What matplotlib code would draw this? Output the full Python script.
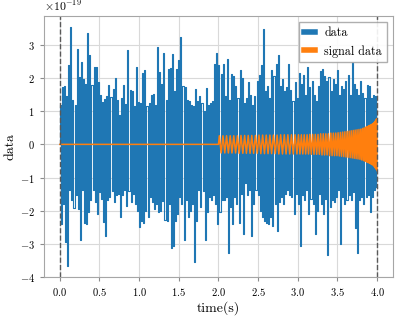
import numpy as np
import matplotlib
matplotlib.use('Agg')
import matplotlib.pyplot as plt

# extremes of the noisy strain, in units of 1e-19
data_hi = [1.2, 1.73, 1.76, 1.45, 2.38, 3.55, 1.35, 1.2, 2.87, 2.02,
           2.47, 1.97, 1.83, 3.36, 2.69, 1.8, 2.33, 2.33, 1.87, 1.5,
           1.28, 1.38, 1.45, 1.78, 1.43, 1.66, 2.0, 1.35, 0.9, 1.4, 1.8,
           1.22, 2.85, 1.63, 1.6, 1.15, 2.34, 1.28, 1.25, 2.15, 2.25,
           1.15, 1.25, 1.5, 1.52, 1.2, 2.95, 2.18, 1.81, 2.76, 1.35,
           2.28, 2.31, 2.72, 1.62, 2.28, 2.54, 3.24, 1.76, 1.73, 1.35,
           1.3, 1.2, 1.15, 1.66, 1.3, 1.45, 1.25, 1.0, 1.69, 1.2, 1.25, 1.3,
           2.43, 2.76, 2.38, 2.12, 2.43, 1.45, 2.56, 1.35, 2.12, 2.07,
           1.76, 1.4, 2.25, 2.0, 1.25, 1.4, 1.87, 1.5, 1.18, 1.45,
           1.92, 2.1, 2.38, 3.48, 1.62, 1.76, 1.4, 2.25, 2.07, 2.41,
           2.69, 1.76, 1.97, 1.62, 1.72, 2.41, 1.63, 1.3, 1.87, 1.4,
           2.14, 1.81, 2.1, 1.5, 2.34, 1.72, 1.92, 1.5, 1.3, 1.76, 2.22,
           2.28, 2.07, 1.92, 2.04, 1.62, 1.97, 1.81, 2.25, 1.5, 1.76,
           1.66, 1.92, 2.1, 1.5, 2.48, 1.81, 1.66, 1.5, 1.92, 1.56,
           1.4, 1.8, 1.76, 1.4, 1.5, 1.45]
data_lo = [-2.41, -1.8, -2.94, -3.68, -1.39, -1.69, -1.92, -1.54, -1.95, -2.89,
           -1.39, -2.36, -2.39, -2.05, -1.69, -1.37, -1.74, -2.1, -1.44, -1.64,
           -2.33, -2.77, -1.69, -1.59, -1.41, -1.74, -1.54, -1.49, -2.2, -1.54,
           -1.37, -1.85, -1.41, -1.74, -1.49, -1.8, -2.0, -2.49, -2.31, -2.36,
           -2.0, -2.18, -1.59, -1.74, -1.95, -1.8, -2.05, -2.0, -1.71, -2.29,
           -2.31, -1.8, -3.14, -3.07, -2.31, -2.1, -1.59, -1.8, -2.87, -1.69,
           -2.2, -2.0, -1.8, -3.55, -2.31, -1.39, -1.9, -1.41, -2.87, -2.05,
           -1.59, -1.69, -1.54,
           -1.8, -2.41, -2.05, -1.69, -1.69, -1.59, -3.28, -1.9, -2.41, -1.59,
           -1.8, -2.36, -1.49, -2.71, -1.18, -1.54, -1.39, -2.77, -1.8, -1.39,
           -1.54, -2.0, -2.2, -2.31, -2.36, -2.41, -2.2, -2.46, -1.8, -2.61,
           -1.74, -1.59, -1.8, -1.49, -1.39, -1.54, -1.59, -2.1, -1.49, -1.8,
           -3.07, -1.54, -1.69, -1.39, -2.1, -1.64, -1.8, -2.69, -2.0, -1.49,
           -1.8, -2.1, -1.64, -3.33, -1.9, -1.69, -1.74, -1.59, -1.39, -3.0,
           -1.59, -1.8, -1.69, -1.54, -1.69, -1.44, -2.51, -3.28, -1.69, -1.59,
           -1.8, -1.59, -1.54, -2.05, -1.59, -1.39, -1.29]

# injected chirp: times of its crests/troughs (s) and their size (1e-19)
signal_times = [2.011, 2.034, 2.057, 2.080, 2.102, 2.125, 2.148, 2.170, 2.193, 2.216,
                2.239, 2.261, 2.284, 2.307, 2.330, 2.352, 2.375, 2.398, 2.420, 2.443,
                2.466, 2.489, 2.511, 2.534, 2.557, 2.580, 2.602, 2.625, 2.648, 2.670,
                2.693, 2.716, 2.739, 2.761, 2.784, 2.807, 2.830, 2.852, 2.875, 2.898,
                2.920, 2.943, 2.966, 2.989,
                3.008, 3.027, 3.045, 3.063, 3.081, 3.099, 3.117, 3.135, 3.152, 3.170,
                3.187, 3.204, 3.221, 3.238, 3.255, 3.272, 3.288, 3.305, 3.321, 3.337,
                3.353, 3.369, 3.385, 3.401, 3.417, 3.432, 3.448, 3.463, 3.478, 3.493,
                3.508, 3.523, 3.537, 3.551, 3.565, 3.579, 3.593, 3.607, 3.621, 3.634,
                3.647, 3.660, 3.673, 3.686, 3.699, 3.711, 3.723, 3.735, 3.747, 3.759,
                3.771, 3.783, 3.794,
                3.805, 3.816, 3.827, 3.837, 3.847, 3.857, 3.867, 3.876, 3.885, 3.894,
                3.903, 3.911, 3.919, 3.927, 3.935, 3.943, 3.950,
                3.957, 3.964, 3.970, 3.976, 3.982, 3.988, 3.993, 3.998]
signal_amp = [0.26, 0.26, 0.26, 0.26, 0.26, 0.26, 0.26, 0.26, 0.26, 0.26, 0.26,
              0.27, 0.27, 0.27, 0.27, 0.27, 0.27, 0.27, 0.27, 0.27, 0.27, 0.27,
              0.28, 0.28, 0.28, 0.28, 0.28, 0.28, 0.28, 0.28, 0.28, 0.28, 0.28,
              0.29, 0.29, 0.29, 0.29, 0.29, 0.29, 0.29, 0.29, 0.29, 0.29, 0.29,
              0.29, 0.29, 0.29, 0.29, 0.29, 0.29, 0.29, 0.29,
              0.30, 0.30, 0.30, 0.30, 0.30, 0.30, 0.30, 0.30,
              0.32, 0.32, 0.32, 0.32, 0.32, 0.32, 0.32,
              0.34, 0.34, 0.34, 0.34, 0.34, 0.34, 0.34,
              0.35, 0.35, 0.36, 0.36, 0.37, 0.37, 0.38, 0.38, 0.39, 0.39,
              0.40, 0.40, 0.41, 0.41, 0.42, 0.42, 0.43, 0.43, 0.44, 0.44,
              0.45, 0.45, 0.46,
              0.47, 0.48, 0.49, 0.50, 0.51, 0.52, 0.53, 0.54, 0.55, 0.56,
              0.57, 0.58, 0.59, 0.60, 0.61, 0.62, 0.63,
              0.65, 0.67, 0.69, 0.71, 0.73, 0.75, 0.77, 0.79]
signal_start = 2.0
window = [0.0, 4.0]
scale = 1e-19

plt.rcParams['font.family'] = 'serif'
plt.rcParams['font.serif'] = ['cmr10']
plt.rcParams['mathtext.fontset'] = 'cm'
plt.rcParams['axes.formatter.use_mathtext'] = True
plt.rcParams['axes.unicode_minus'] = True

# noisy data as one trace swinging from each high to the next low
n = min(len(data_hi), len(data_lo))
t_hi = np.linspace(window[0] + 0.006, window[1] - 0.02, n)
step = t_hi[1] - t_hi[0]
t_lo = t_hi + step / 2
t_data = np.empty(2 * n)
v_data = np.empty(2 * n)
t_data[0::2], t_data[1::2] = t_hi, t_lo
v_data[0::2], v_data[1::2] = data_hi[:n], data_lo[:n]
t_data = np.concatenate([[window[0]], t_data])
v_data = np.concatenate([[0.0], v_data]) * scale

signs = np.where(np.arange(len(signal_amp)) % 2 == 0, 1.0, -1.0)
t_sig = np.concatenate([[window[0], signal_start], signal_times])
v_sig = np.concatenate([[0.0, 0.0], signs * np.array(signal_amp)]) * scale

fig = plt.figure(figsize=(3.99, 3.18), dpi=100)
ax = fig.add_axes([0.110, 0.129, 0.875, 0.821])

ax.plot(t_data, v_data, color='#1f77b4', lw=0.8, drawstyle='steps-mid',
        label='data')
ax.plot(t_sig, v_sig, color='#ff7f0e', lw=1.1, label='signal data')
for w in window:
    ax.axvline(w, color='0.35', ls='--', lw=1.0)

ax.set_xlim(-0.2, 4.2)
ax.set_ylim(-4.0e-19, 3.875e-19)
ax.set_xticks(np.arange(0, 4.01, 0.5))
ax.set_yticks(np.arange(-4, 3.5, 1) * scale)
ax.grid(True, color='#d9d9d9', lw=0.8)
ax.set_axisbelow(True)
for s in ax.spines.values():
    s.set_color('0.65')
ax.tick_params(colors='0.55', labelcolor='black', labelsize=7.6, length=3)
ax.yaxis.get_offset_text().set_fontsize(8.5)

ax.set_xlabel('time(s)', fontsize=10, labelpad=2)
ax.set_ylabel('data', fontsize=10, labelpad=2)

leg = ax.legend(loc='upper right', fontsize=8.7, fancybox=False,
                edgecolor='0.65', framealpha=0.9, handlelength=0.9)
for h in leg.get_lines():
    h.set_linewidth(4)

fig.savefig('out.png', dpi=100)
